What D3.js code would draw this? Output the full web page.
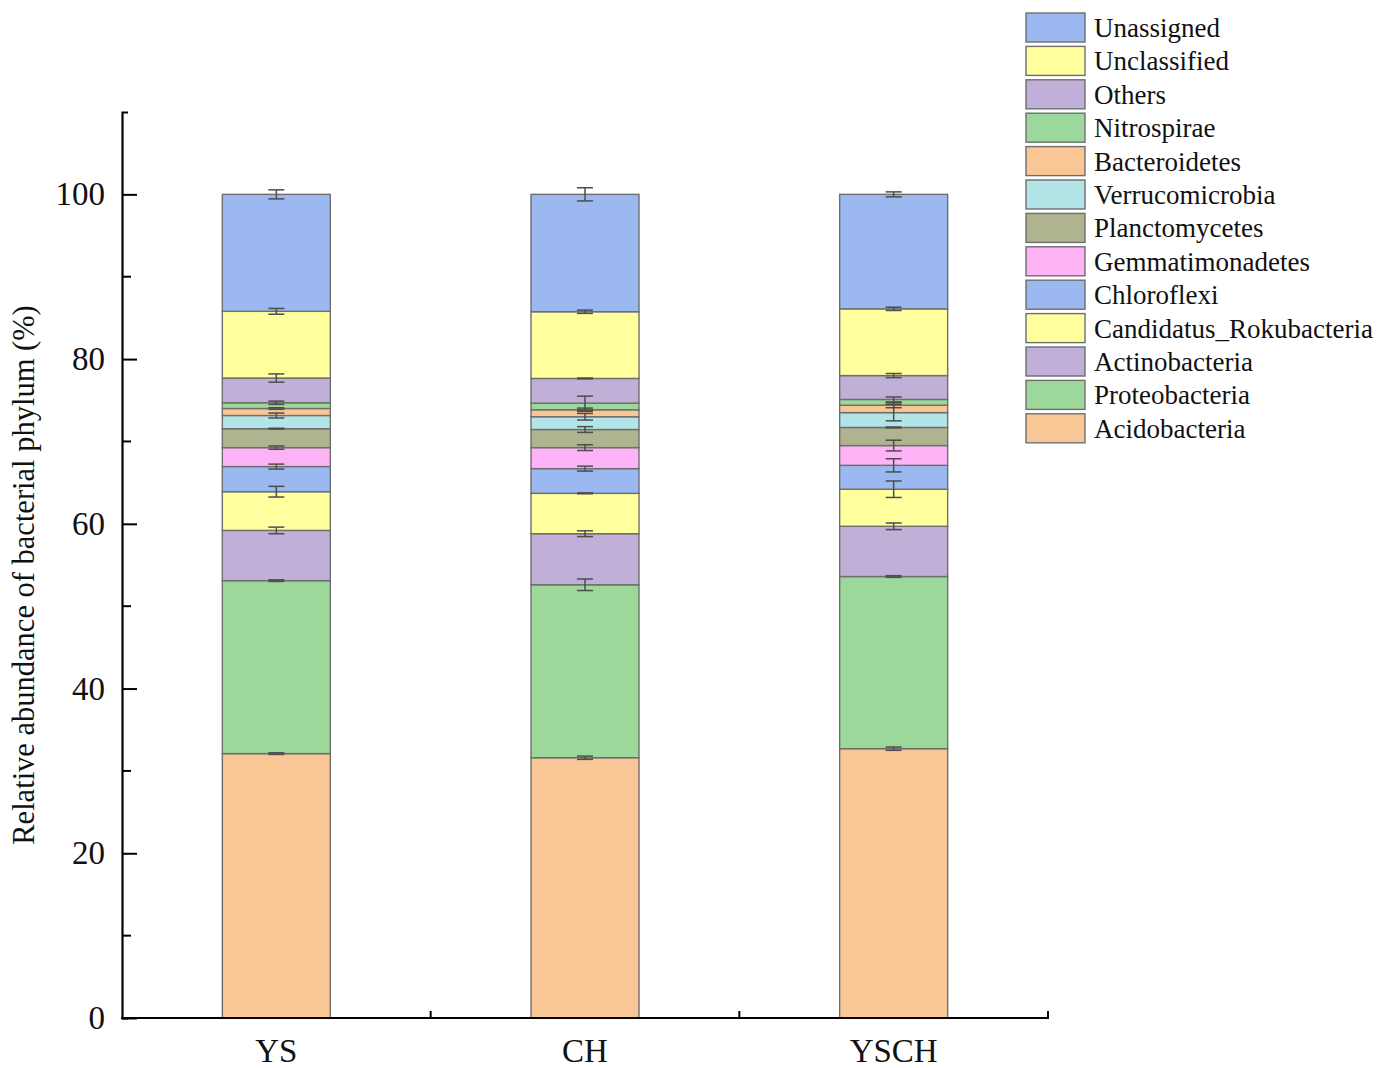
<!DOCTYPE html>
<html>
<head>
<meta charset="utf-8">
<script src="https://cdn.jsdelivr.net/npm/d3@7"></script>
<style>
  html, body { margin: 0; padding: 0; background: #fff; }
  svg { display: block; font-family: "Liberation Serif", "Times New Roman", serif; }
</style>
</head>
<body>
<svg id="chart" width="1380" height="1068"></svg>
<script>
// Sample groups
const groups = ["YS", "CH", "YSCH"];

// Phyla, stacked from bottom to top
const phyla = [
  "Acidobacteria", "Proteobacteria", "Actinobacteria", "Candidatus_Rokubacteria",
  "Chloroflexi", "Gemmatimonadetes", "Planctomycetes", "Verrucomicrobia",
  "Bacteroidetes", "Nitrospirae", "Others", "Unclassified", "Unassigned"
];

const phylumColors = [
  "#F9C795", "#9DD89B", "#C0AFD6", "#FFFF9E",
  "#9BB9F0", "#FFB3F7", "#B0B38F", "#B3E4E8",
  "#F9C795", "#9DD89B", "#C0AFD6", "#FFFF9E", "#9BB9F0"
];

// Relative abundance (%) per group, in phyla order
const valuesYS   = [32.1, 21.0, 6.1, 4.7, 3.05, 2.3, 2.3, 1.6, 0.85, 0.7, 3.0, 8.1, 14.2];
const valuesCH   = [31.6, 21.0, 6.2, 4.9, 3.0, 2.55, 2.2, 1.55, 0.85, 0.8, 3.0, 8.1, 14.25];
const valuesYSCH = [32.7, 20.9, 6.1, 4.5, 2.9, 2.4, 2.2, 1.8, 0.9, 0.7, 2.9, 8.1, 13.9];

// Standard error (%) per group, in phyla order
const errorsYS   = [0.1, 0.1, 0.4, 0.65, 0.3, 0.2, 0.05, 0.3, 0.1, 0.2, 0.5, 0.35, 0.55];
const errorsCH   = [0.2, 0.7, 0.35, 0.05, 0.3, 0.35, 0.35, 0.4, 0.2, 0.85, 0.05, 0.2, 0.8];
const errorsYSCH = [0.2, 0.1, 0.4, 1.0, 0.8, 0.65, 0.05, 1.0, 0.3, 0.3, 0.25, 0.2, 0.3];

const yTicks = [0, 20, 40, 60, 80, 100];
const yMinorTicks = [10, 30, 50, 70, 90];
const yLabel = "Relative abundance of bacterial phylum (%)";

const valuesByGroup = { YS: valuesYS, CH: valuesCH, YSCH: valuesYSCH };
const errorsByGroup = { YS: errorsYS, CH: errorsCH, YSCH: errorsYSCH };

const svg = d3.select("#chart");
const plotLeft = 122, plotRight = 1048, plotTop = 112, plotBottom = 1018;

const x = d3.scaleBand().domain(groups).range([plotLeft, plotRight]).padding(0);
const y = d3.scaleLinear().domain([0, 110]).range([plotBottom, plotTop]);
const barWidth = 108;
const color = d3.scaleOrdinal().domain(phyla).range(phylumColors);

// Build stacked rows
const rows = groups.map(g => {
  const r = { group: g };
  phyla.forEach((p, i) => { r[p] = valuesByGroup[g][i]; });
  return r;
});
const series = d3.stack().keys(phyla)(rows);

const barsG = svg.append("g");
series.forEach(s => {
  barsG.selectAll(null)
    .data(s)
    .enter().append("rect")
    .attr("x", d => x(d.data.group) + x.bandwidth() / 2 - barWidth / 2)
    .attr("width", barWidth)
    .attr("y", d => y(d[1]))
    .attr("height", d => y(d[0]) - y(d[1]))
    .attr("fill", color(s.key))
    .attr("stroke", "#6e6e6e")
    .attr("stroke-width", 1.4);
});

// Error bars at the top of each segment
const errG = svg.append("g").attr("stroke", "#4d4d4d").attr("stroke-width", 1.5).attr("fill", "none");
series.forEach((s, i) => {
  s.forEach(d => {
    const g = d.data.group;
    const e = errorsByGroup[g][i];
    const cx = x(g) + x.bandwidth() / 2;
    const y1 = y(d[1] + e), y2 = y(d[1] - e);
    const cap = 8;
    errG.append("line").attr("x1", cx).attr("x2", cx).attr("y1", y1).attr("y2", y2);
    errG.append("line").attr("x1", cx - cap).attr("x2", cx + cap).attr("y1", y1).attr("y2", y1);
    errG.append("line").attr("x1", cx - cap).attr("x2", cx + cap).attr("y1", y2).attr("y2", y2);
  });
});

// Y axis: ticks pointing inward
const yAxis = d3.axisLeft(y).tickValues(yTicks).tickSize(-15).tickSizeOuter(-6);
const yAxisG = svg.append("g").attr("transform", `translate(${plotLeft},0)`).call(yAxis);
yAxisG.select(".domain").attr("stroke", "#000").attr("stroke-width", 2.2);
yAxisG.selectAll(".tick line").attr("stroke", "#000").attr("stroke-width", 2);
yAxisG.selectAll(".tick text")
  .attr("font-family", "Liberation Serif, serif")
  .attr("font-size", 33)
  .attr("fill", "#111")
  .attr("x", -17);

yAxisG.selectAll(".minor")
  .data(yMinorTicks)
  .enter().append("line")
  .attr("x1", 0).attr("x2", 9)
  .attr("y1", d => y(d)).attr("y2", d => y(d))
  .attr("stroke", "#000").attr("stroke-width", 2);

// X axis: line with upward ticks at group boundaries
const xAxisG = svg.append("g");
xAxisG.append("line")
  .attr("x1", plotLeft - 1).attr("x2", plotRight + 1)
  .attr("y1", plotBottom).attr("y2", plotBottom)
  .attr("stroke", "#000").attr("stroke-width", 2.2);
xAxisG.selectAll(".xt")
  .data(groups)
  .enter().append("line")
  .attr("x1", d => x(d) + x.bandwidth()).attr("x2", d => x(d) + x.bandwidth())
  .attr("y1", plotBottom).attr("y2", plotBottom - 7)
  .attr("stroke", "#000").attr("stroke-width", 2);
xAxisG.selectAll(".xl")
  .data(groups)
  .enter().append("text")
  .attr("x", d => x(d) + x.bandwidth() / 2)
  .attr("y", 1062)
  .attr("text-anchor", "middle")
  .attr("font-size", 33)
  .attr("fill", "#111")
  .text(d => d);

// Y axis title
svg.append("text")
  .attr("transform", `translate(34,575) rotate(-90)`)
  .attr("text-anchor", "middle")
  .attr("font-size", 30.5)
  .attr("fill", "#111")
  .text(yLabel);

// Legend, top entry is the top of the stack
const legendItems = phyla.slice().reverse();
const legend = svg.append("g").attr("transform", "translate(1026,13)");
const rowH = 33.4;
legendItems.forEach((p, i) => {
  const g = legend.append("g").attr("transform", `translate(0,${i * rowH})`);
  g.append("rect")
    .attr("width", 59).attr("height", 29)
    .attr("fill", color(p))
    .attr("stroke", "#6e6e6e").attr("stroke-width", 1.4);
  g.append("text")
    .attr("x", 68).attr("y", 24)
    .attr("font-size", 27)
    .attr("fill", "#111")
    .text(p);
});
</script>
</body>
</html>
